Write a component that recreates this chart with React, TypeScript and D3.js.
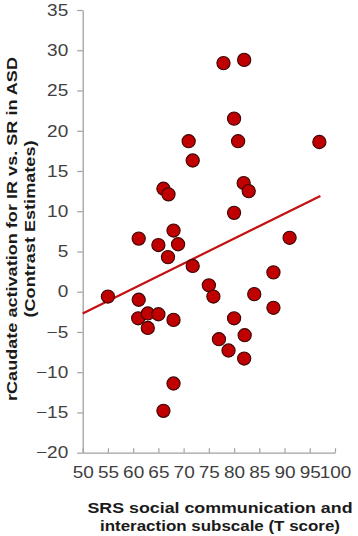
import React, { useEffect, useRef } from "react";
import * as d3 from "d3";

// SRS social communication & interaction T scores
const srsScores = [
  55.0, 61.1, 61.1, 61.0, 62.9, 62.9, 65.0, 65.0, 66.0, 67.0,
  66.9, 66.0, 68.0, 68.9, 68.0, 68.0, 71.0, 71.8, 71.8, 75.0,
  75.9, 77.0, 77.9, 78.9, 80.0, 80.8, 80.0, 80.0, 82.0, 81.9,
  82.9, 82.1, 82.0, 84.0, 87.8, 87.8, 91.0, 96.9,
];

// rCaudate contrast estimates (IR vs. SR)
const contrastEstimates = [
  -0.6, 6.6, -1.0, -3.3, -2.7, -4.5, 5.8, -2.8, 12.8, 12.1,
  4.3, -14.8, 7.6, 5.9, -3.5, -11.4, 18.7, 16.3, 3.2, 0.8,
  -0.6, -5.9, 28.4, -7.3, 21.5, 18.7, 9.8, -3.3, 28.8, 13.5,
  12.5, -5.4, -8.3, -0.3, 2.4, -2.0, 6.7, 18.6,
];

// linear fit at its two ends
const fitX = [50, 97.1];
const fitY = [-2.7, 11.9];

const xTicks = [50, 55, 60, 65, 70, 75, 80, 85, 90, 95, 100];
const yTicks = [-20, -15, -10, -5, 0, 5, 10, 15, 20, 25, 30, 35];

const yTitle = ["rCaudate activation for IR vs. SR in ASD", "(Contrast Estimates)"];
const xTitle = ["SRS social communication and", "interaction subscale (T score)"];

const width = 358;
const height = 536;

// the original figure's text is a bit stretched sideways
const widen = (sel: any, k: number) => {
  sel.each(function (this: SVGTextElement) {
    const len = this.getComputedTextLength();
    d3.select(this).attr("textLength", len * k).attr("lengthAdjust", "spacingAndGlyphs");
  });
};

const App = () => {
  const ref = useRef<SVGSVGElement>(null);

  useEffect(() => {
    drawChart();
  }, []);

  const drawChart = () => {
    const svg = d3.select(ref.current);
    svg.selectAll("*").remove();

    const x = d3.scaleLinear().domain([50, 100]).range([82.7, 335]);
    const y = d3.scaleLinear().domain([-20, 35]).range([452.7, 10]);

    const axisColor = "#a0a0a0";
    const labelColor = "#404040";
    const font = "'Liberation Sans', Arial, sans-serif";

    // y axis
    const gy = svg
      .append("g")
      .attr("transform", `translate(${x(50)},0)`)
      .call(
        d3.axisLeft(y).tickValues(yTicks).tickSizeInner(5.5).tickSizeOuter(0).tickPadding(9)
      );
    gy.select(".domain").attr("stroke", axisColor).attr("stroke-width", 1.3);
    gy.selectAll(".tick line").attr("stroke", axisColor).attr("stroke-width", 1.2);
    gy.selectAll(".tick text")
      .attr("fill", labelColor)
      .attr("font-family", font)
      .attr("font-size", 16.5)
      .call(widen, 1.15);

    // x axis, ticks pointing up into the plot
    const gx = svg
      .append("g")
      .attr("transform", `translate(0,${y(-20)})`)
      .call(
        d3.axisBottom(x).tickValues(xTicks).tickSizeInner(-4.5).tickSizeOuter(0).tickPadding(14)
      );
    gx.select(".domain").attr("stroke", axisColor).attr("stroke-width", 1.3);
    gx.selectAll(".tick line").attr("stroke", axisColor).attr("stroke-width", 1.2);
    gx.selectAll(".tick text")
      .attr("fill", labelColor)
      .attr("font-family", font)
      .attr("font-size", 16.5)
      .call(widen, 1.15);

    // fit line
    const line = d3
      .line<number>()
      .x((d) => x(d))
      .y((d, i) => y(fitY[i]));
    svg
      .append("path")
      .attr("d", line(fitX))
      .attr("fill", "none")
      .attr("stroke", "#c41010")
      .attr("stroke-width", 2.2);

    // points
    svg
      .append("g")
      .selectAll("circle")
      .data(srsScores)
      .enter()
      .append("circle")
      .attr("cx", (d) => x(d))
      .attr("cy", (d, i) => y(contrastEstimates[i]))
      .attr("r", 6.6)
      .attr("fill", "#c00000")
      .attr("stroke", "#3a0606")
      .attr("stroke-width", 1.1);

    // y title
    const yLens = [344, 177];
    yTitle.forEach((t, i) => {
      svg
        .append("text")
        .attr("transform", `translate(${17 + i * 18},229) rotate(-90)`)
        .attr("text-anchor", "middle")
        .attr("font-family", font)
        .attr("font-weight", "bold")
        .attr("font-size", 15.5)
        .attr("fill", "#1a1a1a")
        .attr("textLength", yLens[i])
        .attr("lengthAdjust", "spacingAndGlyphs")
        .text(t);
    });

    // x title
    const xLens = [265, 240];
    xTitle.forEach((t, i) => {
      svg
        .append("text")
        .attr("x", 220)
        .attr("y", 513 + i * 18)
        .attr("text-anchor", "middle")
        .attr("font-family", font)
        .attr("font-weight", "bold")
        .attr("font-size", 15.5)
        .attr("fill", "#1a1a1a")
        .attr("textLength", xLens[i])
        .attr("lengthAdjust", "spacingAndGlyphs")
        .text(t);
    });
  };

  return (
    <svg
      ref={ref}
      width={width}
      height={height}
      style={{ position: "absolute", left: 0, top: 0, background: "#fff" }}
    />
  );
};

export default App;
